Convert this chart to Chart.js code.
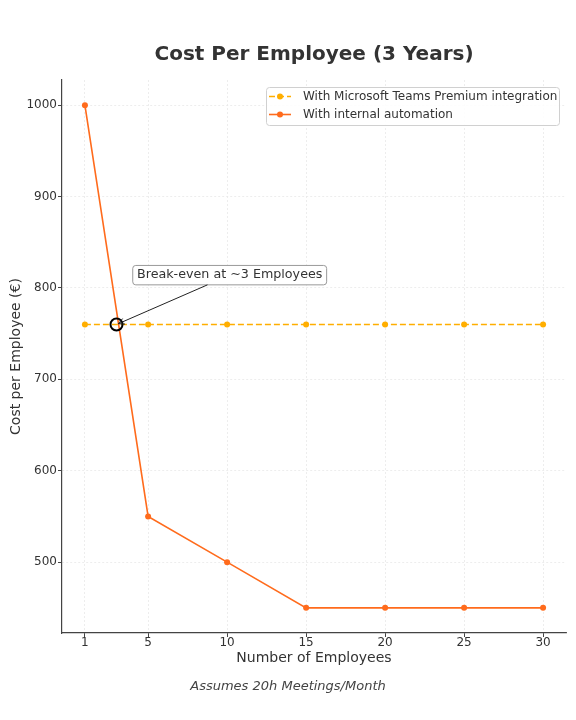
<!DOCTYPE html>
<html>
<head>
<meta charset="utf-8">
<style>
  html, body { margin: 0; padding: 0; background: #ffffff; }
  #wrap { width: 576px; height: 720px; }
</style>
<script src="https://cdn.jsdelivr.net/npm/chart.js@4.4.1/dist/chart.umd.min.js"></script>
</head>
<body>
<div id="wrap"><canvas id="c" width="576" height="720"></canvas></div>
<script>
// ---- data ----
const employees = [1, 5, 10, 15, 20, 25, 30];
const teamsCost = [760, 760, 760, 760, 760, 760, 760];
const internalCost = [1000, 550, 500, 450, 450, 450, 450];
const xTickValues = [1, 5, 10, 15, 20, 25, 30];
const yTickValues = [500, 600, 700, 800, 900, 1000];
const seriesLabels = ['With Microsoft Teams Premium integration', 'With internal automation'];
const breakEvenPoint = { x: 3, y: 760 };
const breakEvenLabelAt = { x: 4.3, y: 814 };
const titleText = 'Cost Per Employee (3 Years)';
const xAxisTitle = 'Number of Employees';
const yAxisTitle = 'Cost per Employee (€)';
const footnoteText = 'Assumes 20h Meetings/Month';
const breakEvenText = 'Break-even at ~3 Employees';

const FONT = "'DejaVu Sans', 'Liberation Sans', sans-serif";
const TEXT = '#333333';
const AXIS = '#444444';
const TEAMS_COLOR = '#FFAE00';
const INTERNAL_COLOR = '#FF6B1C';

function toPoints(xs, ys) { return xs.map((x, i) => ({ x: x, y: ys[i] })); }

const decorPlugin = {
  id: 'decor',
  afterDraw(chart) {
    const ctx = chart.ctx;
    const area = chart.chartArea;
    const xs = chart.scales.x, ys = chart.scales.y;

    // Title
    ctx.save();
    ctx.fillStyle = TEXT;
    ctx.font = 'bold 20px ' + FONT;
    ctx.textAlign = 'center';
    ctx.textBaseline = 'middle';
    ctx.fillText(titleText, (area.left + area.right) / 2, 55);
    // Footnote
    ctx.font = 'italic 13px ' + FONT;
    ctx.fillStyle = '#444444';
    ctx.fillText(footnoteText, 288, 687);
    ctx.restore();

    // Legend
    ctx.save();
    const lx = 266, ly = 87, lw = 293, lh = 38;
    ctx.beginPath();
    ctx.roundRect(lx + 0.5, ly + 0.5, lw, lh, 3);
    ctx.fillStyle = 'rgba(255,255,255,0.85)';
    ctx.fill();
    ctx.strokeStyle = '#d0d0d0';
    ctx.lineWidth = 1;
    ctx.stroke();
    chart.data.datasets.forEach((ds, i) => {
      const y = 96.5 + i * 18;
      ctx.save();
      ctx.strokeStyle = ds.borderColor;
      ctx.lineWidth = ds.borderWidth;
      ctx.setLineDash(ds.borderDash || []);
      ctx.beginPath();
      ctx.moveTo(269, y);
      ctx.lineTo(291, y);
      ctx.stroke();
      ctx.setLineDash([]);
      ctx.fillStyle = ds.pointBackgroundColor;
      ctx.beginPath();
      ctx.arc(280, y, 3, 0, Math.PI * 2);
      ctx.fill();
      ctx.restore();
      ctx.fillStyle = TEXT;
      ctx.font = '12px ' + FONT;
      ctx.textAlign = 'left';
      ctx.textBaseline = 'middle';
      ctx.fillText(ds.label, 303, y);
    });
    ctx.restore();

    // Break-even marker and annotation
    const px = xs.getPixelForValue(breakEvenPoint.x);
    const py = ys.getPixelForValue(breakEvenPoint.y);
    ctx.save();
    ctx.strokeStyle = '#000000';
    ctx.lineWidth = 2;
    ctx.beginPath();
    ctx.arc(px, py, 6, 0, Math.PI * 2);
    ctx.stroke();
    ctx.restore();

    const tx = xs.getPixelForValue(breakEvenLabelAt.x);
    const ty = ys.getPixelForValue(breakEvenLabelAt.y);
    ctx.save();
    ctx.font = '12.7px ' + FONT;
    const tw = ctx.measureText(breakEvenText).width;
    const bx0 = tx - 4.3, bx1 = tx + tw + 4.3, by0 = ty - 9.7, by1 = ty + 9.7;
    ctx.beginPath();
    ctx.roundRect(bx0, by0, bx1 - bx0, by1 - by0, 3);
    ctx.fillStyle = '#ffffff';
    ctx.fill();
    ctx.strokeStyle = '#999999';
    ctx.lineWidth = 1;
    ctx.stroke();
    ctx.fillStyle = TEXT;
    ctx.textAlign = 'left';
    ctx.textBaseline = 'middle';
    ctx.fillText(breakEvenText, tx, ty);

    // arrow: from box centre clipped to box edge, to the point
    const cx = (bx0 + bx1) / 2, cy = (by0 + by1) / 2;
    const dx = px - cx, dy = py - cy;
    let t = 1;
    if (dy !== 0) t = Math.min(t, Math.abs((by1 - cy) / dy));
    if (dx !== 0) t = Math.min(t, Math.abs((bx1 - cx) / dx));
    const sx = cx + dx * t, sy = cy + dy * t;
    const len = Math.hypot(px - sx, py - sy);
    const ux = (px - sx) / len, uy = (py - sy) / len;
    const ex = px - ux * 2, ey = py - uy * 2;
    ctx.strokeStyle = '#222222';
    ctx.lineWidth = 1;
    ctx.beginPath();
    ctx.moveTo(sx, sy);
    ctx.lineTo(ex, ey);
    ctx.stroke();
    const hl = 6, hw = 3;
    ctx.beginPath();
    ctx.moveTo(ex - ux * hl - uy * hw, ey - uy * hl + ux * hw);
    ctx.lineTo(ex, ey);
    ctx.lineTo(ex - ux * hl + uy * hw, ey - uy * hl - ux * hw);
    ctx.stroke();
    ctx.restore();
  }
};

const gridCommon = {
  color: '#e9e9e9',
  lineWidth: 0.8,
  tickColor: AXIS,
  tickLength: 4,
  tickWidth: 1,
  drawTicks: true
};

new Chart(document.getElementById('c'), {
  type: 'line',
  data: {
    datasets: [
      {
        label: seriesLabels[0],
        data: toPoints(employees, teamsCost),
        borderColor: TEAMS_COLOR,
        backgroundColor: TEAMS_COLOR,
        pointBackgroundColor: TEAMS_COLOR,
        pointBorderColor: TEAMS_COLOR,
        borderWidth: 1.6,
        borderDash: [6, 3],
        pointRadius: 3,
        pointBorderWidth: 0,
        tension: 0
      },
      {
        label: seriesLabels[1],
        data: toPoints(employees, internalCost),
        borderColor: INTERNAL_COLOR,
        backgroundColor: INTERNAL_COLOR,
        pointBackgroundColor: INTERNAL_COLOR,
        pointBorderColor: INTERNAL_COLOR,
        borderWidth: 1.6,
        pointRadius: 3,
        pointBorderWidth: 0,
        tension: 0
      }
    ]
  },
  options: {
    responsive: false,
    animation: false,
    devicePixelRatio: 1,
    layout: { padding: { top: 80, right: 10, bottom: 47, left: 0 } },
    plugins: {
      legend: { display: false },
      title: { display: false },
      tooltip: { enabled: false }
    },
    scales: {
      x: {
        type: 'linear',
        min: -0.45,
        max: 31.45,
        afterBuildTicks: s => { s.ticks = xTickValues.map(v => ({ value: v })); },
        afterFit: s => { s.height = 40; },
        ticks: { color: TEXT, font: { family: FONT, size: 12, lineHeight: 1 }, padding: 0, maxRotation: 0, autoSkip: false, callback: v => String(v) },
        grid: gridCommon,
        border: { display: true, color: AXIS, width: 1.2, dash: [2, 2] },
        title: { display: true, text: xAxisTitle, color: TEXT, font: { family: FONT, size: 14 }, padding: { top: 0, bottom: 6 } }
      },
      y: {
        type: 'linear',
        min: 422.5,
        max: 1027.5,
        afterBuildTicks: s => { s.ticks = yTickValues.map(v => ({ value: v })); },
        afterFit: s => { s.width = 62; },
        ticks: { color: TEXT, font: { family: FONT, size: 12 }, padding: 1, callback: v => String(v) },
        grid: gridCommon,
        border: { display: true, color: AXIS, width: 1.2, dash: [2, 2] },
        title: { display: true, text: yAxisTitle, color: TEXT, font: { family: FONT, size: 14 }, padding: { top: 8, bottom: 0 } }
      }
    }
  },
  plugins: [decorPlugin]
});
</script>
</body>
</html>
